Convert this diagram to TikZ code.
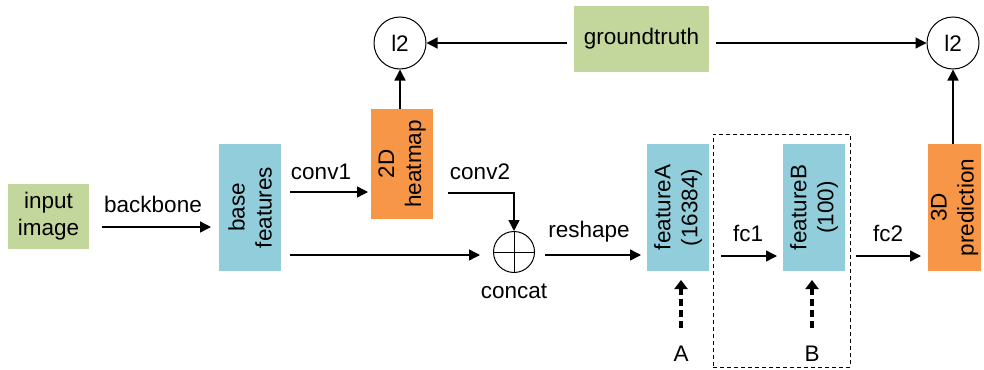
\documentclass[tikz,border=0pt]{standalone}
\usepackage{fontspec}
\setmainfont{Liberation Sans}
\usetikzlibrary{arrows.meta}
\definecolor{gr}{HTML}{C3D69B}
\definecolor{bl}{HTML}{92CDDC}
\definecolor{og}{HTML}{F79646}
\begin{document}
\begin{tikzpicture}[x=1pt,y=-1pt,
  every node/.style={font=\fontsize{22.5}{27}\selectfont, inner sep=0pt, align=center},
  arr/.style={line width=1.4pt, -{Triangle[length=11pt,width=11pt]}},
  darr/.style={line width=3.2pt, dash pattern=on 7pt off 4pt, -{Triangle[length=9pt,width=13pt]}}]
\useasboundingbox (0,0) rectangle (984,369);
% boxes
\node[fill=gr, minimum width=81pt, minimum height=65pt] (inp) at (48.5,216.5) {input\\image};
\node[fill=bl, minimum width=62pt, minimum height=127pt] (base) at (250,207.5) {};
\node[rotate=90] at (base.center) {base\\features};
\node[fill=og, minimum width=62pt, minimum height=110pt] (hm) at (402,164) {};
\node[rotate=90] at (hm.center) {2D\\heatmap};
\node[fill=gr, minimum width=135pt, minimum height=66pt] (gt) at (641.5,39) {groundtruth};
\node[draw, circle, line width=1pt, minimum size=52pt] (l2a) at (400,43) {l2};
\node[draw, circle, line width=1pt, minimum size=52pt] (l2b) at (953,43) {l2};
\node[draw, circle, line width=1pt, minimum size=41pt] (cat) at (514,252) {};
\draw[line width=1pt] (cat.north) -- (cat.south) (cat.west) -- (cat.east);
\node (catl) at (514,291) {concat};
\node[fill=bl, minimum width=62pt, minimum height=127pt] (fa) at (678,207.5) {};
\node[rotate=90] at (fa.center) {featureA\\(16384)};
\node[fill=bl, minimum width=62pt, minimum height=127pt] (fb) at (814,207.5) {};
\node[rotate=90] at (fb.center) {featureB\\(100)};
\node[fill=og, minimum width=53pt, minimum height=127pt] (pr) at (954.5,207.5) {};
\node[rotate=90] at (pr.center) {3D\\prediction};
\node[draw, line width=1pt, dash pattern=on 4pt off 3pt, minimum width=137pt, minimum height=233pt] (dbox) at (781.5,250.5) {};
% coordinates
\coordinate (b1s) at (102,227); \coordinate (b1e) at (211,227);
\coordinate (c1s) at (290,192); \coordinate (c1e) at (368,192);
\coordinate (lows) at (290,255); \coordinate (lowe) at (480,255);
\coordinate (c2s) at (448,193); \coordinate (c2c) at (514,193);
\coordinate (rs) at (545,255); \coordinate (re) at (641,255);
\coordinate (f1s) at (721,256); \coordinate (f1e) at (777,256);
\coordinate (f2s) at (856,256); \coordinate (f2e) at (921,256);
\coordinate (gl) at (567,43); \coordinate (gr2) at (716,43);
\coordinate (as) at (681,328); \coordinate (ae) at (681,280);
\coordinate (bs) at (812,328); \coordinate (be) at (812,280);
% arrows
\draw[arr] (b1s) -- (b1e);
\node at (153,204) {backbone};
\draw[arr] (c1s) -- (c1e);
\node at (321,172) {conv1};
\draw[arr] (lows) -- (lowe);
\draw[arr] (c2s) -- (c2c) -- (cat.north);
\node at (480,172) {conv2};
\draw[arr] (rs) -- (re);
\node at (589,232) {reshape};
\draw[arr] (f1s) -- (f1e);
\node at (748,233) {fc1};
\draw[arr] (f2s) -- (f2e);
\node at (888,233) {fc2};
\draw[arr] (hm.north -| l2a) -- (l2a.south);
\draw[arr] (pr.north -| l2b) -- (l2b.south);
\draw[arr] (gl) -- (l2a.east);
\draw[arr] (gr2) -- (l2b.west);
\draw[darr] (as) -- (ae);
\draw[darr] (bs) -- (be);
\node (la) at (681,354) {A};
\node (lb) at (812,354) {B};
\end{tikzpicture}
\end{document}
